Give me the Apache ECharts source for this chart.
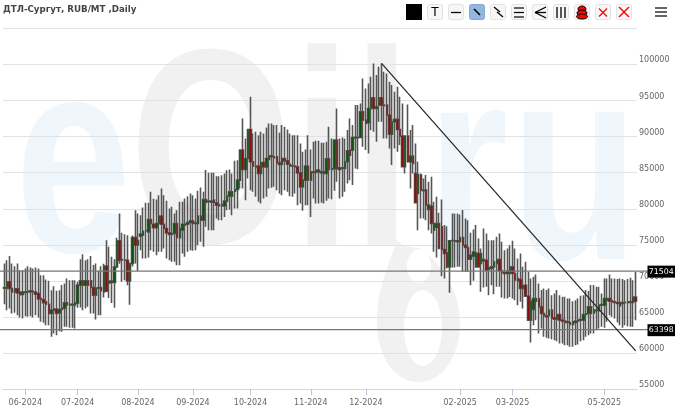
<!DOCTYPE html>
<html>
<head>
<meta charset="utf-8">
<style>html,body{margin:0;padding:0;background:#fff}#c{width:680px;height:411px}</style>
<script src="https://cdn.jsdelivr.net/npm/echarts@6/dist/echarts.min.js"></script>
</head>
<body>
<div id="c"></div>
<script>
const chartTitle = 'ДТЛ-Сургут, RUB/MT ,Daily';
const tickIndex = [8,28,51,72,94,117,138,174,194,229];
const tickLabels = ['06-2024','07-2024','08-2024','09-2024','10-2024','11-2024','12-2024','02-2025','03-2025','05-2025'];
const levels = [71504, 63398];
const trendStart = [144, 100140];
const trendEnd = [241, 60330];
const opens = [
69000,68960,69890,68960,68460,68920,68460,68130,68410,68500,
68640,68500,68460,68270,67580,67400,67120,66790,65500,66100,
66100,65590,66050,66240,66980,66790,66700,66700,66930,69430,
70030,69430,70030,70030,69100,68040,69000,69100,68500,72060,
69700,70000,69800,71960,75560,72900,72900,72880,70020,72420,
76020,75000,76200,76350,76950,76810,78520,77870,77370,77970,
78980,77870,77270,76670,76440,76580,77970,75980,77040,77870,
77870,78060,78340,77970,77970,78980,78430,81290,80970,81060,
81200,80820,80590,80590,80410,81060,81750,81750,82440,82670,
83970,88120,85440,86970,90990,86510,85910,85910,84890,86410,
85810,86830,87340,87200,87200,86370,86140,86970,86640,86180,
85950,85910,85810,84980,83040,83970,85910,83970,85120,85030,
85350,84980,85120,84890,86920,85450,85540,89510,85450,85680,
85590,86510,88130,88130,89800,89900,89880,93440,92280,91910,
93900,95380,93900,94360,95380,94360,94360,92980,90340,92050,
92380,90990,90070,85820,90070,86510,87290,84890,82120,84660,
82590,82590,79910,80370,77040,77410,77970,77510,74360,73900,
71960,75570,75570,75570,75430,76030,74960,74640,73020,73440,
71960,73810,72420,72980,72880,71590,71780,71960,72420,72980,
71410,71180,71040,71040,71960,71040,70340,70210,68960,69420,
67900,64580,66060,67210,67580,66430,65500,65180,65180,65960,
64900,64720,65360,64580,64440,64350,64250,63980,64250,64440,
64580,64580,65360,65500,66430,65590,65870,65870,66660,66660,
67350,67580,67300,67120,67030,67030,66890,67000,67030,67120,
67030,67760];
const closes = [
69100,69890,68960,68460,68920,68360,68090,68460,68500,68590,
68500,68590,68180,67530,67440,67000,66790,65500,65960,65960,
65500,66050,66240,66980,66700,66700,66790,66980,69430,70030,
69430,70030,69430,69100,68040,69000,69100,68640,72060,68590,
70000,69800,71960,75560,72880,72980,72880,70020,72420,76020,
74960,75600,76500,76900,77000,78520,77970,77370,77970,78980,
77870,77270,76670,76440,76580,77970,75980,77270,77870,77730,
78100,78340,77970,78060,78980,78430,81290,80880,81060,80920,
80880,80500,80410,80410,81060,81750,82350,82350,82670,83970,
88120,85440,86970,90990,86510,85910,85810,84890,86410,85810,
86970,87340,87200,87060,86370,86140,86970,86640,86180,85950,
85910,85810,84980,83040,83970,85910,83970,85120,85030,85350,
85120,85120,84890,86920,85450,85540,89510,85540,85680,85590,
86510,88030,87430,89880,89900,89850,93440,92280,91820,93900,
95380,93900,94130,95380,94360,94270,92980,90340,92050,92380,
90990,90070,85820,90070,86510,87290,86280,80830,84750,82590,
82500,80510,80510,77970,77970,77970,74500,74360,73810,71960,
75570,75600,75500,75430,76030,74960,74640,73020,73580,74000,
73900,71960,73810,72790,71500,71820,71960,72660,72980,71410,
71180,71040,71360,71960,71040,70110,70020,68960,69420,67900,
64570,67210,67580,67580,66430,65500,65180,65040,65960,64810,
64720,65360,64580,64440,64250,64250,63980,64350,64440,64580,
64670,65360,65450,66430,65500,65960,65960,66660,66750,67580,
67580,67210,67120,67030,66890,66560,67030,67050,67120,67030,
67760,67210];
const lows = [
66790,65960,66190,65500,65590,65270,64950,64810,65130,65040,
65130,64950,65270,64950,64350,64210,63880,63880,62270,62730,
62500,63050,62960,63650,63650,63510,63510,63420,66300,66330,
65960,66190,66420,65500,65500,64670,65270,65270,67700,68500,
67630,66950,66300,71800,72400,69880,70110,69420,66700,72000,
72420,71400,74270,73110,73110,73250,74270,74040,73580,74040,
74040,74500,73110,72880,72650,72650,72190,72190,73810,73350,
74040,74270,74180,74270,74960,75430,74730,77500,77040,77040,
77040,78650,78420,78420,78880,79810,79900,79110,80040,80040,
82810,82810,81190,84200,82580,82350,81660,80960,80730,81430,
81660,82810,82900,83040,82580,82120,81890,82580,82350,81750,
81660,82120,80500,80730,79720,80500,80500,78880,81430,80730,
80730,80830,80730,81100,81430,81330,82490,83740,81430,81660,
82350,83510,83970,83280,85590,85490,89880,88590,88130,87660,
90900,90670,89280,92050,92050,89740,89740,88360,86050,88360,
87900,88820,85720,84890,86510,82810,84890,80730,77040,78660,
78660,78430,77040,76580,74040,73260,74410,70670,70340,71730,
68360,71870,71870,71960,71960,71270,71270,71270,69420,70020,
71960,71900,68500,69100,69190,68040,69420,68170,69190,69190,
67710,67570,67570,67800,67570,67340,66650,67110,66190,67800,
64570,61480,63880,64580,62730,63420,62270,62130,62040,61940,
61800,61670,61340,61340,61110,61110,60880,60880,61110,61200,
61670,61800,62270,62500,62730,62730,63190,63420,63650,63510,
64350,65270,65040,64810,64250,63880,63510,63880,63750,63650,
63650,64580];
const highs = [
72430,72890,73450,72430,72060,72430,71500,71500,71740,72060,
71880,71740,71880,71740,70810,70810,70210,70030,68730,69290,
68640,68730,69430,69660,70350,70120,70120,70120,69900,73000,
73700,72890,73000,73450,72200,72430,71410,72060,72400,75660,
74740,73350,73000,76000,79350,76670,76490,76350,72420,76300,
79810,79350,79120,80180,80830,80830,82350,81380,81290,81890,
82820,81890,81110,80050,80280,79350,79810,80970,80970,81430,
81750,82120,81890,81430,82490,82960,82350,85360,84990,84990,
84990,84520,84520,84660,84890,85350,85440,84890,86650,86740,
88120,92510,89740,90990,95520,90430,90660,90200,90660,90430,
91270,91820,91820,91590,91590,90530,91590,91360,90990,90430,
90200,90200,90200,89050,87890,88220,90200,88220,89280,89420,
89420,89140,89140,89280,91360,89740,89510,93900,89740,89880,
89740,90900,92520,91590,94360,94360,94590,98060,96670,97370,
98290,100140,98520,99680,100140,98980,98750,97600,97140,96210,
96900,95520,94590,90200,94460,90900,91590,89050,86510,84890,
84200,84670,83740,84440,80970,81660,79450,81290,77740,77600,
75660,79350,79350,79350,79220,79820,78660,78430,76670,77140,
77740,75890,74500,77270,76580,75660,75660,75660,76120,76580,
75430,74270,74500,74960,75570,74500,73120,73810,71960,72660,
71270,70350,70580,70910,69660,68740,68970,68740,68970,68040,
68270,68740,68040,67810,67810,67580,67580,67210,67350,67580,
67950,68040,68740,68600,69430,69430,69200,69200,68270,70350,
70350,70910,70350,70350,70260,70350,70260,70120,70260,70440,
70120,71280];

const categories = opens.map((_, i) => {
  const k = tickIndex.indexOf(i);
  return k >= 0 ? tickLabels[k] : '';
});
const ohlc = opens.map((o, i) => [o, closes[i], lows[i], highs[i]]);
const bodies = opens.map((o, i) => [o, closes[i], Math.min(o, closes[i]), Math.max(o, closes[i])]);

const BLUE = '#eff6fc', GREY = '#f1f1f1';
function wm(ch, x, y, fill) {
  return {type:'text', x:x, y:y, scaleX:0.75, z:-10, silent:true,
    style:{text:ch, fill:fill, font:'bold 278px "Liberation Sans"', textAlign:'left', textVerticalAlign:'top'}};
}
echarts.graphic.registerShape('wmDrop', echarts.graphic.extendPath('M397 240 C392 258 377 285 377 322 C377 358 396 382 418 382 C442 382 460 358 460 322 C460 290 440 262 420 248 C406 248 400 244 397 240 Z', {}));
const watermark = [
  wm('e', 15, 36, BLUE), wm('O', 130, 27, GREY), wm('i', 293, 29, GREY), wm('l', 353, 29, GREY),
  wm('r', 427, 44, BLUE), wm('u', 511, 43, BLUE),
  {type:'wmDrop', z:-10, silent:true, style:{fill:GREY}},
  {type:'ellipse', z:-9, silent:true, shape:{cx:419,cy:266,rx:12,ry:17}, style:{fill:'#fff'}},
  {type:'ellipse', z:-9, silent:true, shape:{cx:423,cy:328,rx:19,ry:38}, style:{fill:'#fff'}}
];

function btn(x, fill, stroke) {
  return {type:'rect', shape:{x:x+.5, y:4.5, width:15, height:15, r:2}, style:{fill:fill||'#f7f7f7', stroke:stroke||'#e3e3e3', lineWidth:1}, silent:true};
}
function ln(x1,y1,x2,y2,w,c) {
  return {type:'line', shape:{x1,y1,x2,y2}, style:{stroke:c||'#000', lineWidth:w||1}, silent:true};
}
const toolbar = [
  {type:'rect', shape:{x:406,y:4,width:16,height:16}, style:{fill:'#000'}, silent:true},
  btn(427),
  {type:'text', x:435, y:12.5, silent:true, style:{text:'T', fill:'#000', font:'13px "Liberation Sans"', textAlign:'center', textVerticalAlign:'middle'}},
  btn(448), ln(451,12.5,461,12.5,1.3),
  btn(469,'#92b7de','#84a9d2'), ln(474,9,480,15,1.6),
  btn(490), ln(494,7,500,12,1.3), ln(497,12,503,17,1.3),
  btn(511), ln(514,8,524,8,1.2), ln(514,12.5,524,12.5,1.2), ln(514,17,524,17,1.2),
  btn(532), ln(535,12.5,546,7,1.3), ln(535,12.5,546,12.5,1.3), ln(535,12.5,546,18,1.3),
  btn(553), ln(557,7,557,18,1.3), ln(561,7,561,18,1.3), ln(565,7,565,18,1.3),
  btn(574),
  {type:'ellipse', shape:{cx:582,cy:9,rx:4,ry:3}, style:{fill:'#f00',stroke:'#000',lineWidth:1}, silent:true},
  {type:'ellipse', shape:{cx:582,cy:13,rx:5,ry:3}, style:{fill:'#f00',stroke:'#000',lineWidth:1}, silent:true},
  {type:'ellipse', shape:{cx:582,cy:16.5,rx:5.5,ry:2.5}, style:{fill:'#f00',stroke:'#000',lineWidth:1}, silent:true},
  btn(595), ln(599,8.5,607,16.5,1.3,'#f00'), ln(607,8.5,599,16.5,1.3,'#f00'),
  btn(616), ln(619,7,629,17,1.4,'#f00'), ln(629,7,619,17,1.4,'#f00'),
  ln(655,8,667,8,2,'#666'), ln(655,12,667,12,2,'#666'), ln(655,16,667,16,2,'#666')
];

const chart = echarts.init(document.getElementById('c'), null, {renderer:'canvas'});
chart.setOption({
  animation:false,
  backgroundColor:'#fff',
  title:{text:chartTitle, left:-2, top:0, textStyle:{fontFamily:'"DejaVu Sans"', fontSize:8.7, fontWeight:'bold', color:'#444'}},
  graphic:[...watermark, ...toolbar],
  grid:{left:3, right:43, top:28.3, bottom:21.7, containLabel:false},
  xAxis:{type:'category', data:categories, boundaryGap:true,
    axisLine:{show:true, lineStyle:{color:'#ccd6eb'}},
    axisTick:{show:true, alignWithLabel:true, length:6, lineStyle:{color:'#b8c6e0', width:1}, interval:(i)=>tickIndex.includes(i)},
    axisLabel:{interval:(i,v)=>v!=='', color:'#666', fontFamily:'"DejaVu Sans"', fontSize:8, margin:10, hideOverlap:false},
    splitLine:{show:false}},
  yAxis:{type:'value', position:'right', min:55000, max:105000, interval:5000,
    axisLine:{show:false}, axisTick:{show:false},
    splitLine:{lineStyle:{color:'#e2e2e2'}},
    axisLabel:{color:'#666', fontFamily:'"DejaVu Sans"', fontSize:8, margin:2, align:'left', verticalAlign:'bottom',
      formatter:v=>v===105000?'':String(v)}},
  series:[
    {type:'candlestick', data:ohlc, barWidth:2, z:3,
      itemStyle:{color:'#333', color0:'#333', borderColor:'#555', borderColor0:'#555', borderWidth:1.6}},
    {type:'candlestick', data:bodies, barWidth:2, z:3, silent:true,
      itemStyle:{color:'#0d520d', color0:'#8c0d0d', borderColor:'#0d520d', borderColor0:'#8c0d0d', borderWidth:0}},
    {type:'line', data:[trendStart, trendEnd], symbol:'none', z:4, clip:false, lineStyle:{color:'#222', width:1.2}},
    {type:'custom', z:4, data:levels.map(v=>[0,v]), silent:true, clip:false,
      renderItem:(p, api)=>{
        const v = api.value(1);
        const y = api.coord([0, v])[1] + 1;
        return {type:'group', children:[
          {type:'line', shape:{x1:0,y1:y,x2:648,y2:y}, style:{stroke:'#777', lineWidth:1.3}},
          {type:'rect', shape:{x:647.5,y:y-5.5,width:27.5,height:12}, style:{fill:'#000'}},
          {type:'text', x:661.2, y:y+0.5, style:{text:String(v), fill:'#fff', font:'7.8px "DejaVu Sans"', textAlign:'center', textVerticalAlign:'middle'}}
        ]};
      }}
  ]
});
</script>
</body>
</html>
